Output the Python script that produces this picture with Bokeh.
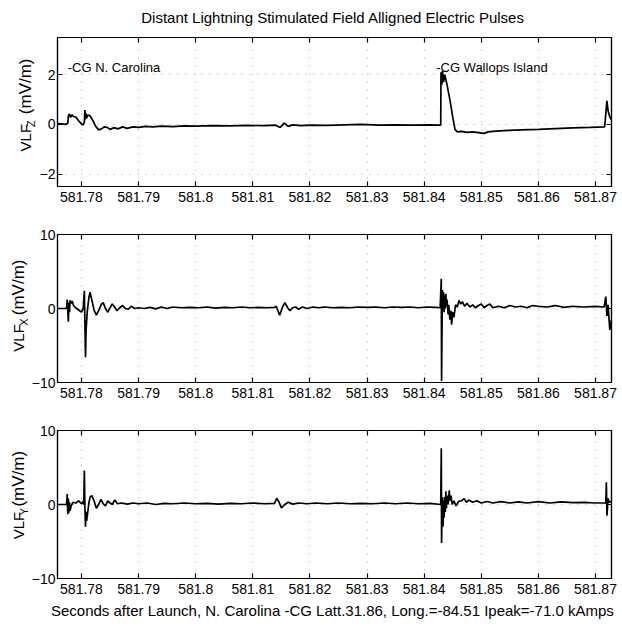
from bokeh.plotting import figure
from bokeh.layouts import column, row
from bokeh.models import Range1d, FixedTicker, LinearAxis, CustomJSTickFormatter
from bokeh.core.properties import value
from bokeh.embed import file_html
from bokeh.resources import INLINE

# ---------------- data ----------------
title_text = "Distant Lightning Stimulated Field Alligned Electric Pulses"
xlabel_text = "Seconds after Launch,  N. Carolina -CG Latt.31.86, Long.=-84.51 Ipeak=-71.0 kAmps"
event_labels = ["-CG N. Carolina", "-CG Wallops Island"]
event_label_t = [581.7776, 581.8421]
event_label_v = [2.3, 2.3]

x_ticks = [581.78, 581.79, 581.80, 581.81, 581.82, 581.83, 581.84, 581.85, 581.86, 581.87]
x_tick_labels = ["581.78", "581.79", "581.8", "581.81", "581.82", "581.83",
                 "581.84", "581.85", "581.86", "581.87"]
z_ticks = [-2, 0, 2]
z_tick_labels = ["\u22122", "0", "2"]
xy_ticks = [-10, 0, 10]
xy_tick_labels = ["\u221210", "0", "10"]

# VLF_Z (mV/m): (seconds, value)
vlf_z = [
    (581.7758, 0.03), (581.7766, 0.02), (581.7772, 0.00), (581.7776, 0.05), (581.7777, 0.35),
    (581.7779, 0.42), (581.7781, 0.28), (581.7783, 0.38), (581.7786, 0.32), (581.7790, 0.30),
    (581.7795, 0.15), (581.7800, 0.02), (581.7803, -0.02), (581.7805, 0.10), (581.7806, 0.58),
    (581.7807, 0.20), (581.7808, 0.45), (581.7809, 0.25), (581.7811, 0.38), (581.7815, 0.35),
    (581.7820, 0.15), (581.7825, -0.08), (581.7830, -0.22), (581.7835, -0.18), (581.7840, -0.10),
    (581.7845, -0.12), (581.7850, -0.20), (581.7857, -0.13), (581.7864, -0.18), (581.7872, -0.10),
    (581.7880, -0.16), (581.7890, -0.10), (581.7900, -0.12), (581.7912, -0.08), (581.7925, -0.10),
    (581.7940, -0.07), (581.7960, -0.09), (581.7980, -0.06), (581.8000, -0.07), (581.8030, -0.05),
    (581.8060, -0.06), (581.8090, -0.04), (581.8120, -0.05), (581.8140, -0.03), (581.8148, -0.12),
    (581.8155, 0.05), (581.8162, -0.08), (581.8170, -0.02), (581.8185, -0.05), (581.8200, -0.03),
    (581.8230, -0.04), (581.8260, -0.02), (581.8290, 0.00), (581.8320, -0.03), (581.8350, -0.02),
    (581.8380, -0.03), (581.8410, -0.02), (581.8429, -0.03), (581.84295, 2.10), (581.8431, 1.60),
    (581.8432, 2.15), (581.8434, 1.70), (581.8436, 2.00), (581.8440, 1.60), (581.8445, 1.00),
    (581.8450, 0.30), (581.8454, -0.20), (581.8458, -0.30), (581.8465, -0.28), (581.8475, -0.32),
    (581.8485, -0.30), (581.8495, -0.33), (581.8505, -0.36), (581.8512, -0.30), (581.8520, -0.28),
    (581.8540, -0.25), (581.8570, -0.22), (581.8600, -0.20), (581.8630, -0.17), (581.8660, -0.14),
    (581.8690, -0.12), (581.8716, -0.10), (581.8720, 0.95), (581.8722, 0.55), (581.8725, 0.30),
    (581.8728, 0.20),
]

# VLF_X (mV/m)
vlf_x = [
    (581.7758, 0.0), (581.7774, 0.0), (581.7775, 1.2), (581.7776, -0.3), (581.7777, -1.8),
    (581.7778, 0.8), (581.7779, -0.5), (581.7780, 1.1), (581.7782, 0.7), (581.7784, 1.0),
    (581.7786, 0.4), (581.7790, 0.1), (581.7795, -0.2), (581.7800, -0.5), (581.7803, 0.0),
    (581.7805, 2.4), (581.7806, -2.0), (581.7807, -6.6), (581.7808, -3.0), (581.7810, -0.5),
    (581.7813, 1.5), (581.7815, 2.2), (581.7818, 1.2), (581.7822, -0.2), (581.7826, -0.9),
    (581.7830, -0.3), (581.7835, 0.6), (581.7838, 0.8), (581.7842, 0.0), (581.7846, -0.5),
    (581.7850, 0.1), (581.7854, 0.6), (581.7858, 0.2), (581.7862, -0.3), (581.7867, 0.1),
    (581.7872, 0.4), (581.7877, 0.0), (581.7882, -0.1), (581.7887, 0.3), (581.7893, 0.0),
    (581.7900, 0.1), (581.7910, 0.0), (581.7920, 0.15), (581.7930, -0.05), (581.7940, 0.2),
    (581.7950, 0.0), (581.7960, 0.2), (581.7975, 0.1), (581.7990, 0.15), (581.8005, 0.1),
    (581.8020, 0.2), (581.8035, 0.05), (581.8050, 0.15), (581.8065, 0.1), (581.8080, 0.2),
    (581.8095, 0.1), (581.8110, 0.15), (581.8125, 0.1), (581.8138, 0.15), (581.8141, 0.3),
    (581.8147, -0.9), (581.8152, 0.2), (581.8156, 0.8), (581.8161, 0.1), (581.8165, -0.3),
    (581.8170, 0.1), (581.8175, 0.2), (581.8180, -0.1), (581.8187, 0.2), (581.8195, 0.0),
    (581.8205, 0.2), (581.8215, 0.1), (581.8225, 0.2), (581.8240, 0.1), (581.8255, 0.15),
    (581.8270, 0.1), (581.8285, 0.2), (581.8300, 0.15), (581.8315, 0.2), (581.8330, 0.1),
    (581.8345, 0.2), (581.8360, 0.15), (581.8375, 0.2), (581.8390, 0.1), (581.8405, 0.2),
    (581.8420, 0.15), (581.8428, 0.1), (581.8430, 4.0), (581.84305, -9.8), (581.8431, -5.0),
    (581.8432, 2.5), (581.8433, 0.5), (581.8434, 2.2), (581.8435, -0.5), (581.8436, 1.8),
    (581.8437, 0.0), (581.8438, 2.0), (581.8439, 0.3), (581.8440, 1.2), (581.8442, -0.8),
    (581.8443, 0.5), (581.8445, -1.5), (581.8447, -0.3), (581.8448, -2.2), (581.8450, -0.5),
    (581.8452, -1.2), (581.8455, 0.5), (581.8458, 0.2), (581.8461, 1.1), (581.8464, 0.6),
    (581.8467, 0.9), (581.8471, 0.3), (581.8475, 0.7), (581.8480, 0.2), (581.8485, 0.5),
    (581.8490, 0.1), (581.8495, 0.4), (581.8500, 0.6), (581.8505, 0.1), (581.8510, 0.4),
    (581.8515, 0.6), (581.8520, 0.1), (581.8530, 0.3), (581.8540, 0.1), (581.8550, 0.4),
    (581.8560, 0.2), (581.8570, 0.3), (581.8580, 0.1), (581.8590, 0.4), (581.8600, 0.3),
    (581.8615, 0.2), (581.8630, 0.4), (581.8645, 0.15), (581.8660, 0.3), (581.8680, 0.2),
    (581.8700, 0.3), (581.8715, 0.2), (581.8718, 1.6), (581.8720, -1.0), (581.8722, 0.5),
    (581.8725, -2.9), (581.8728, -1.5),
]

# VLF_Y (mV/m)
vlf_y = [
    (581.7758, 0.0), (581.7774, 0.0), (581.7775, 1.4), (581.7776, -1.3), (581.7777, 0.8),
    (581.7778, -1.1), (581.7779, 0.3), (581.7780, -0.8), (581.7782, -0.2), (581.7785, 0.3),
    (581.7790, 0.2), (581.7795, 0.5), (581.7800, 0.1), (581.7803, 0.4), (581.7804, 0.0),
    (581.7805, 4.6), (581.7806, -0.5), (581.7807, -3.0), (581.7808, -1.0), (581.7809, -2.2),
    (581.7811, -1.0), (581.7813, 0.2), (581.7815, 1.0), (581.7818, 1.2), (581.7822, 0.5),
    (581.7826, -0.5), (581.7830, 0.0), (581.7834, 0.7), (581.7838, 0.1), (581.7842, -0.2),
    (581.7846, 0.5), (581.7850, 0.2), (581.7854, 0.0), (581.7858, 0.6), (581.7863, 0.1),
    (581.7870, 0.2), (581.7880, 0.05), (581.7890, 0.2), (581.7900, 0.1), (581.7915, 0.2),
    (581.7930, 0.0), (581.7945, 0.15), (581.7960, 0.1), (581.7980, 0.2), (581.8000, 0.1),
    (581.8020, 0.15), (581.8040, 0.05), (581.8060, 0.15), (581.8080, 0.1), (581.8100, 0.2),
    (581.8120, 0.1), (581.8138, 0.15), (581.8142, 0.85), (581.8146, 0.3), (581.8150, -0.45),
    (581.8156, 0.0), (581.8162, 0.3), (581.8170, 0.05), (581.8180, 0.2), (581.8195, 0.1),
    (581.8210, 0.2), (581.8230, 0.1), (581.8250, 0.2), (581.8270, 0.1), (581.8290, 0.15),
    (581.8310, 0.1), (581.8330, 0.2), (581.8350, 0.1), (581.8370, 0.2), (581.8390, 0.1),
    (581.8410, 0.15), (581.8429, 0.0), (581.8430, 7.6), (581.84305, -5.2), (581.8431, -2.0),
    (581.8432, 1.0), (581.8433, -3.0), (581.8434, 0.5), (581.8435, -1.8), (581.8436, 1.0),
    (581.8437, -1.0), (581.8438, 1.8), (581.8439, -0.5), (581.8440, 1.2), (581.8442, 0.0),
    (581.8444, 1.9), (581.8445, 0.5), (581.8447, 1.2), (581.8449, 0.0), (581.8452, 0.5),
    (581.8456, -0.2), (581.8460, 0.4), (581.8465, 0.5), (581.8470, 0.8), (581.8474, 0.3),
    (581.8478, 0.6), (581.8485, 0.3), (581.8492, 0.5), (581.8500, 0.2), (581.8510, 0.4),
    (581.8520, 0.2), (581.8535, 0.4), (581.8550, 0.2), (581.8565, 0.35), (581.8580, 0.2),
    (581.8600, 0.4), (581.8620, 0.2), (581.8640, 0.35), (581.8660, 0.25), (581.8680, 0.3),
    (581.8700, 0.2), (581.8718, 0.2), (581.8719, 3.0), (581.8720, -1.5), (581.8722, 0.8),
    (581.8724, 0.3), (581.8728, 0.4),
]

# ---------------- style ----------------
FONT = "Liberation Sans"
X_LO, X_HI = 581.7758, 581.8728
HALF_PI = 1.5707963


def blank_fig(w, h):
    f = figure(width=w, height=h, output_backend="svg", toolbar_location=None,
               title=None, x_range=Range1d(0, w), y_range=Range1d(0, h),
               x_axis_type=None, y_axis_type=None, min_border=0)
    f.outline_line_color = None
    f.background_fill_color = "white"
    f.border_fill_color = "white"
    return f


def style_axis(ax, show_labels=True):
    ax.major_tick_in = 5
    ax.major_tick_out = 0
    ax.minor_tick_in = 0
    ax.minor_tick_out = 0
    ax.axis_line_color = "black"
    ax.axis_line_width = 1.2
    ax.major_tick_line_color = "black"
    ax.major_tick_line_width = 1.2
    ax.major_label_text_font = FONT
    ax.major_label_text_color = "black"
    ax.major_label_text_font_size = "14px"
    if not show_labels:
        ax.formatter = CustomJSTickFormatter(code="return ''")
        ax.major_label_standoff = 0


def make_panel(width, height, left, top, bottom, pts, y_lo, y_hi, yt, ytl):
    p = figure(width=width, height=height, output_backend="svg", toolbar_location=None,
               x_range=Range1d(X_LO, X_HI), y_range=Range1d(y_lo, y_hi),
               min_border_left=left, min_border_right=11,
               min_border_top=top, min_border_bottom=bottom)
    p.background_fill_color = "white"
    p.border_fill_color = "white"
    p.outline_line_color = "black"
    p.outline_line_width = 1.2

    xt = FixedTicker(ticks=x_ticks)
    ytk = FixedTicker(ticks=yt)
    bottom_ax = p.below[0]
    left_ax = p.left[0]
    bottom_ax.ticker = xt
    left_ax.ticker = ytk
    bottom_ax.major_label_overrides = dict(zip(x_ticks, x_tick_labels))
    left_ax.major_label_overrides = dict(zip(yt, ytl))
    style_axis(bottom_ax)
    bottom_ax.major_label_standoff = 5
    style_axis(left_ax)
    left_ax.major_label_standoff = 2

    top_ax = LinearAxis(ticker=FixedTicker(ticks=x_ticks))
    style_axis(top_ax, show_labels=False)
    p.add_layout(top_ax, "above")
    right_ax = LinearAxis(ticker=FixedTicker(ticks=yt))
    style_axis(right_ax, show_labels=False)
    p.add_layout(right_ax, "right")

    p.xgrid.ticker = xt
    p.ygrid.ticker = ytk
    for g in (p.xgrid, p.ygrid):
        g.grid_line_color = "#a8a8a8"
        g.grid_line_dash = "1 7"
        g.grid_line_width = 1

    t = [a for a, b in pts]
    v = [b for a, b in pts]
    p.line(t, v, line_color="black", line_width=1.7)
    return p, bottom_ax


def ylabel_fig(w, h, base_x, sub_x, y_vlf, sub, y_sub, y_unit):
    f = blank_fig(w, h)
    f.text(x=[base_x], y=[y_vlf], text=["VLF"], angle=HALF_PI,
           text_font=value(FONT), text_font_size="15px", text_color="black",
           text_align="center", text_baseline="middle")
    f.text(x=[sub_x], y=[y_sub], text=[sub], angle=HALF_PI,
           text_font=value(FONT), text_font_size="11px", text_color="black",
           text_align="center", text_baseline="middle")
    f.text(x=[base_x], y=[y_unit], text=["(mV/m)"], angle=HALF_PI,
           text_font=value(FONT), text_font_size="17px", text_color="black",
           text_align="center", text_baseline="middle")
    return f


# title strip
tf = blank_fig(622, 30)
tf.text(x=[54 + 557 / 2], y=[13], text=[title_text], text_font=value(FONT),
        text_font_size="15px", text_color="black", text_align="center",
        text_baseline="middle")

# panels
p1, ax1 = make_panel(586, 180, 18, 7, 24, vlf_z, -2.5, 3.5, z_ticks, z_tick_labels)
p2, ax2 = make_panel(594, 196, 26, 24, 24, vlf_x, -10, 10, xy_ticks, xy_tick_labels)
p3, ax3 = make_panel(594, 221, 26, 24, 49, vlf_y, -10, 10, xy_ticks, xy_tick_labels)

l1 = ylabel_fig(36, 180, 25, 30, 59, "Z", 76, 121)
l2 = ylabel_fig(28, 196, 18, 23.5, 59, "X", 80, 126)
l3 = ylabel_fig(28, 221, 18, 23.5, 79, "Y", 100, 149)

p1.text(x=event_label_t, y=event_label_v, text=event_labels, text_font=value(FONT),
        text_font_size="13px", text_color="black", text_align="left",
        text_baseline="middle")

ax3.axis_label = xlabel_text
ax3.axis_label_text_font = FONT
ax3.axis_label_text_font_size = "15px"
ax3.axis_label_text_font_style = "normal"
ax3.axis_label_text_color = "black"
ax3.axis_label_standoff = 5

layout = column(tf, row(l1, p1, spacing=0), row(l2, p2, spacing=0),
                row(l3, p3, spacing=0), spacing=0)
open("out.html", "w").write(file_html(layout, INLINE))
